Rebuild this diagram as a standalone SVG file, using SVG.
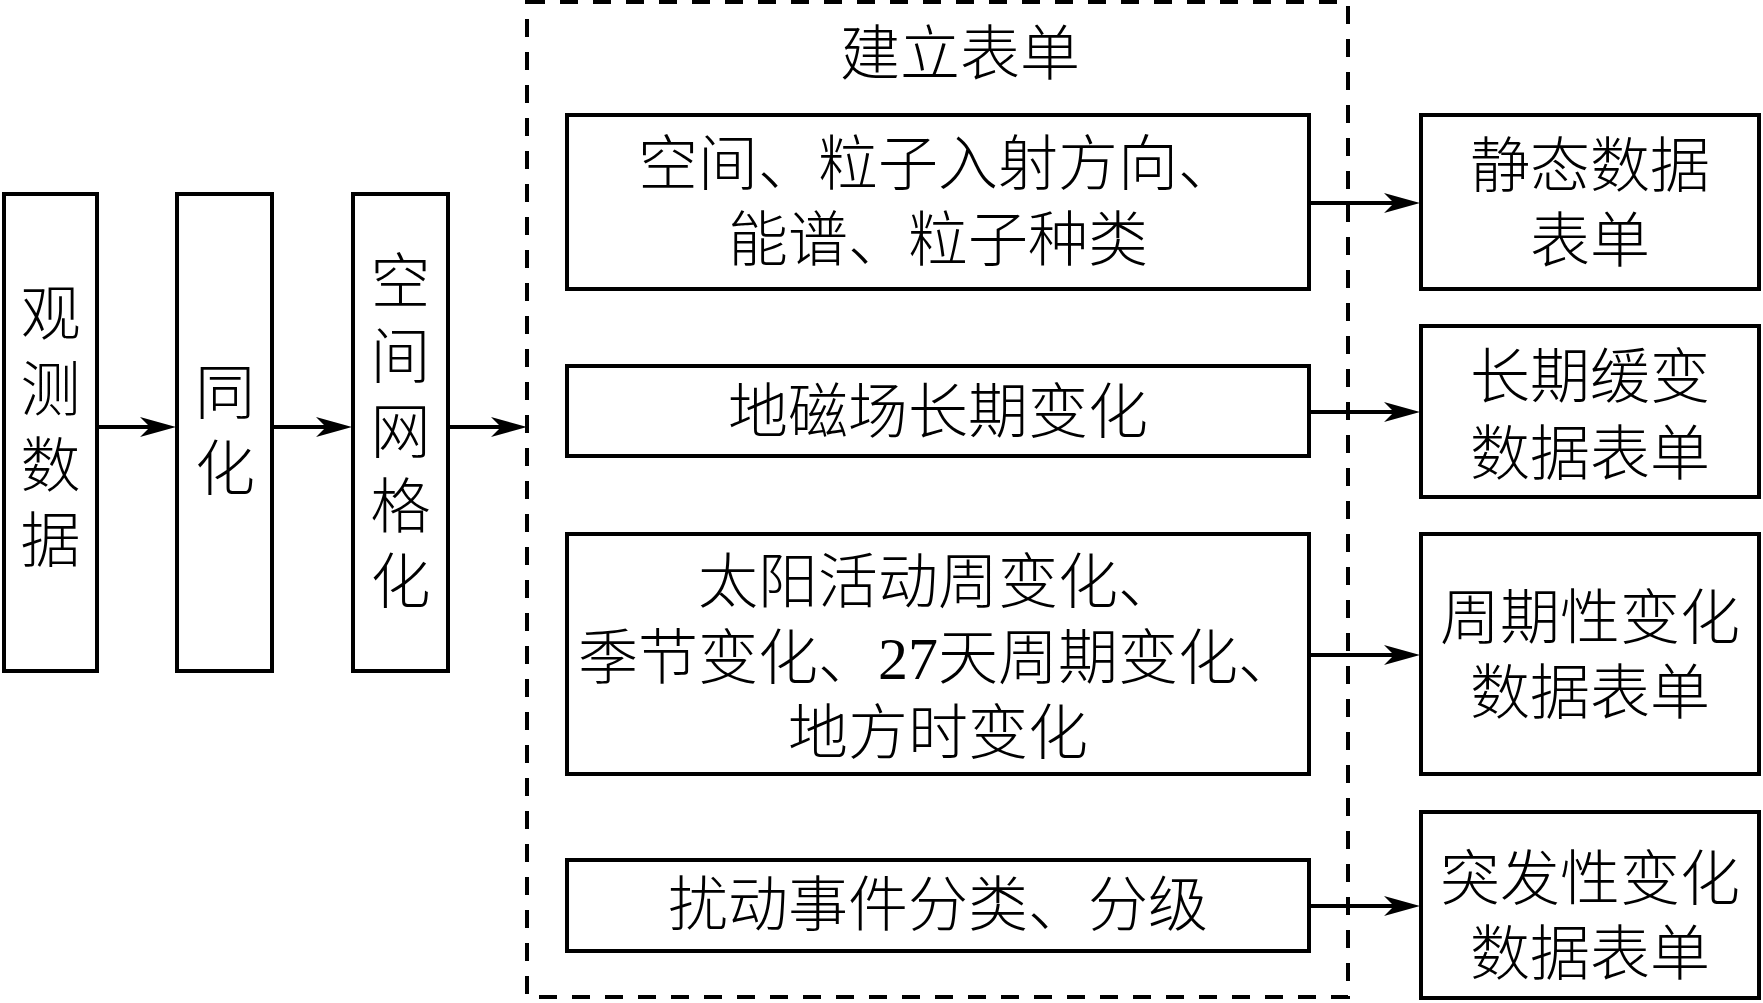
<svg xmlns="http://www.w3.org/2000/svg" width="1763" height="1003" viewBox="0 0 1763 1003">
<defs>
<style>
.box{fill:#fff;stroke:#000;stroke-width:4}
.dash{fill:none;stroke:#000;stroke-width:4;stroke-dasharray:18 15}
.t{font-family:"Liberation Serif","Noto Sans CJK SC",serif;font-size:60px;font-weight:300;fill:#000;text-anchor:middle}
.c{stroke:#000;stroke-width:4;fill:none;marker-end:url(#ah)}
</style>
<marker id="ah" viewBox="0 0 36 20" refX="26" refY="10" markerWidth="36" markerHeight="20" markerUnits="userSpaceOnUse" orient="auto">
<path d="M0,0 L36,10 L0,20 L10,10 Z" fill="#000"/>
</marker>
</defs>
<rect width="1763" height="1003" fill="#fff"/>
<g id="group-build">
<rect class="dash" x="527" y="2" width="821" height="995"/>
<text class="t" x="960" y="75">建立表单</text>
</g>
<g id="n-obs">
<rect class="box" x="4" y="194" width="93" height="477"/>
<text class="t" x="50.5" y="335">观</text>
<text class="t" x="50.5" y="411">测</text>
<text class="t" x="50.5" y="487">数</text>
<text class="t" x="50.5" y="562">据</text>
</g>
<g id="n-assim">
<rect class="box" x="177" y="194" width="95" height="477"/>
<text class="t" x="225" y="414">同</text>
<text class="t" x="225" y="490">化</text>
</g>
<g id="n-grid">
<rect class="box" x="353" y="194" width="95" height="477"/>
<text class="t" x="400.5" y="303">空</text>
<text class="t" x="400.5" y="378">间</text>
<text class="t" x="400.5" y="453">网</text>
<text class="t" x="400.5" y="528">格</text>
<text class="t" x="400.5" y="603">化</text>
</g>
<g id="n-space">
<rect class="box" x="567" y="115" width="742" height="174"/>
<text class="t" x="938" y="185">空间、粒子入射方向、</text>
<text class="t" x="938" y="261">能谱、粒子种类</text>
</g>
<g id="n-geomag">
<rect class="box" x="567" y="366" width="742" height="90"/>
<text class="t" x="938" y="433">地磁场长期变化</text>
</g>
<g id="n-periodic">
<rect class="box" x="567" y="534" width="742" height="240"/>
<text class="t" x="938" y="603">太阳活动周变化、</text>
<text class="t" x="938" y="679">季节变化、27天周期变化、</text>
<text class="t" x="938" y="754">地方时变化</text>
</g>
<g id="n-disturb">
<rect class="box" x="567" y="860" width="742" height="91"/>
<text class="t" x="938" y="926">扰动事件分类、分级</text>
</g>
<g id="n-static">
<rect class="box" x="1421" y="115" width="338" height="174"/>
<text class="t" x="1590" y="187">静态数据</text>
<text class="t" x="1590" y="262">表单</text>
</g>
<g id="n-secular">
<rect class="box" x="1421" y="326" width="338" height="171"/>
<text class="t" x="1590" y="398">长期缓变</text>
<text class="t" x="1590" y="475">数据表单</text>
</g>
<g id="n-cyclic">
<rect class="box" x="1421" y="534" width="338" height="240"/>
<text class="t" x="1590" y="639">周期性变化</text>
<text class="t" x="1590" y="714">数据表单</text>
</g>
<g id="n-sudden">
<rect class="box" x="1421" y="812" width="338" height="186"/>
<text class="t" x="1590" y="900">突发性变化</text>
<text class="t" x="1590" y="975">数据表单</text>
</g>
<g id="connectors">
<line class="c" x1="97" y1="427" x2="166" y2="427"/>
<line class="c" x1="272" y1="427" x2="342" y2="427"/>
<line class="c" x1="448" y1="427" x2="517" y2="427"/>
<line class="c" x1="1309" y1="203" x2="1410" y2="203"/>
<line class="c" x1="1309" y1="412" x2="1410" y2="412"/>
<line class="c" x1="1309" y1="655" x2="1410" y2="655"/>
<line class="c" x1="1309" y1="906" x2="1410" y2="906"/>
</g>
</svg>
